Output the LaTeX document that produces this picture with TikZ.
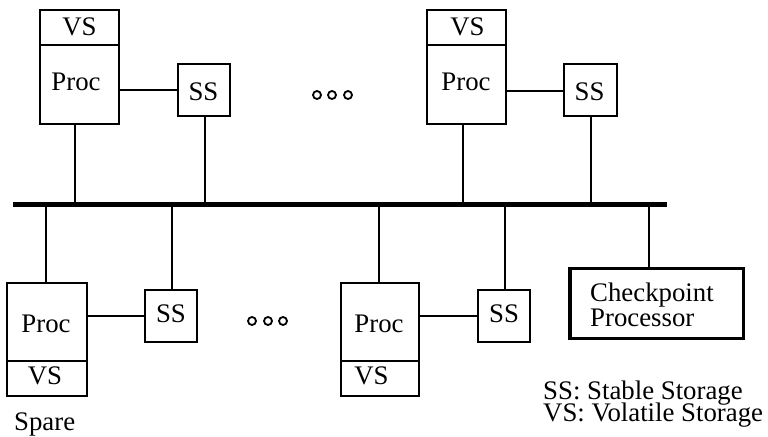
\documentclass[tikz,border=0pt]{standalone}
\usepackage{fontspec}
\setmainfont{Liberation Serif}
\begin{document}
\begin{tikzpicture}[x=1bp,y=-1bp,
  box/.style={draw,line width=1.4bp,inner sep=0pt,minimum width=#1},
  wire/.style={line width=1.4bp},
  lbl/.style={inner sep=0pt,anchor=base,font=\fontsize{26.9pt}{30pt}\selectfont},
  lblw/.style={inner sep=0pt,anchor=base west,font=\fontsize{26.9pt}{30pt}\selectfont},
  dot/.style={draw,circle,line width=1.8bp,inner sep=0pt,minimum size=8bp}]
\useasboundingbox (0,0) rectangle (768,437);
% bus
\coordinate (busL) at (13,204.5);
\coordinate (busR) at (667,204.5);
\draw[line width=4.5bp] (busL) -- (busR);
\foreach \n/\x in {t1/75,t2/205,t3/463,t4/591,d1/46,d2/172,d3/379,d4/505,d5/649}
  \coordinate (\n) at (\x,204.5);
% top-left group
\node[box=79bp,minimum height=35bp] (vsA) at (79.5,27.5) {};
\node[box=79bp,minimum height=79bp] (pA) at (79.5,84.5) {};
\node[box=52bp,minimum height=52bp] (sA) at (204,90) {};
\node[lbl] (vsAt) at (79.5,36) {VS};
\node[lbl] (pAt) at (76,91) {Proc};
\node[lbl] (sAt) at (203.5,101) {SS};
\draw[wire] (sA.west) -- (sA.west -| pA.east);
\draw[wire] (t1) -- (t1 |- pA.south);
\draw[wire] (t2) -- (t2 |- sA.south);
% top-right group
\node[box=79bp,minimum height=35bp] (vsB) at (466.5,27.5) {};
\node[box=79bp,minimum height=79bp] (pB) at (466.5,84.5) {};
\node[box=53bp,minimum height=52bp] (sB) at (590.5,90) {};
\node[lbl] (vsBt) at (467.5,36) {VS};
\node[lbl] (pBt) at (466,91) {Proc};
\node[lbl] (sBt) at (589.5,101) {SS};
\draw[wire] ([yshift=-1bp]sB.west) -- ([yshift=-1bp]sB.west -| pB.east);
\draw[wire] (t3) -- (t3 |- pB.south);
\draw[wire] (t4) -- (t4 |- sB.south);
% dots
\node[dot] (o1) at (317,95) {};
\node[dot] (o2) at (332,95) {};
\node[dot] (o3) at (348,95) {};
\node[dot] (o4) at (252,321) {};
\node[dot] (o5) at (268,321) {};
\node[dot] (o6) at (283,321) {};
% bottom-left group
\node[box=80bp,minimum height=78bp] (pC) at (47,322) {};
\node[box=80bp,minimum height=35bp] (vsC) at (47,378.5) {};
\node[box=52bp,minimum height=52bp] (sC) at (171,316) {};
\node[lbl] (pCt) at (46,333) {Proc};
\node[lbl] (vsCt) at (45,384) {VS};
\node[lbl] (sCt) at (171,323) {SS};
\draw[wire] (sC.west) -- (sC.west -| pC.east);
\draw[wire] (d1) -- (d1 |- pC.north);
\draw[wire] (d2) -- (d2 |- sC.north);
% bottom-right group
\node[box=78bp,minimum height=78bp] (pD) at (380,322) {};
\node[box=78bp,minimum height=35bp] (vsD) at (380,378.5) {};
\node[box=52bp,minimum height=52bp] (sD) at (504,316) {};
\node[lbl] (pDt) at (379,333) {Proc};
\node[lbl] (vsDt) at (371.5,384) {VS};
\node[lbl] (sDt) at (504,323) {SS};
\draw[wire] (sD.west) -- (sD.west -| pD.east);
\draw[wire] (d3) -- (d3 |- pD.north);
\draw[wire] (d4) -- (d4 |- sD.north);
% checkpoint processor
\node[draw,line width=3.5bp,inner sep=0pt,minimum width=173.5bp,minimum height=69.5bp] (cp) at (656.5,303.5) {};
\node[lblw] (cpt1) at (590,302) {Checkpoint};
\node[lblw] (cpt2) at (590,327) {Processor};
\draw[wire] (d5) -- (d5 |- cp.north);
% legend
\node[lblw] (lg1) at (543,399.5) {SS: Stable Storage};
\node[lblw] (lg2) at (543,421) {VS: Volatile Storage};
\node[lblw] (spare) at (14,430.5) {Spare};
\end{tikzpicture}
\end{document}
